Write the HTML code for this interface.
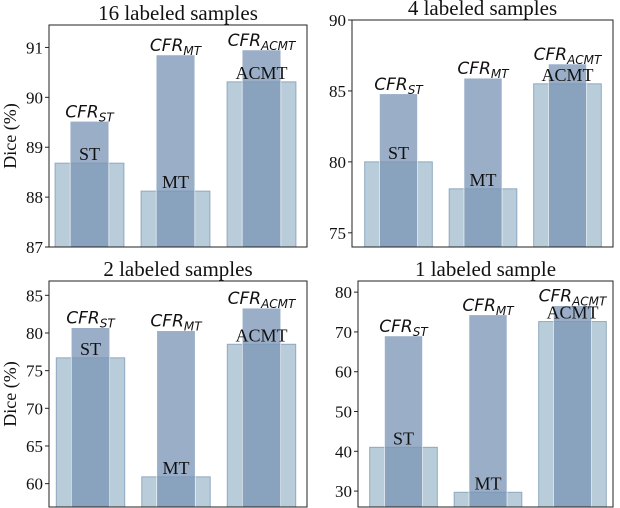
<!DOCTYPE html>
<html><head><meta charset="utf-8"><style>
html,body{margin:0;padding:0;background:#fff;}
svg{display:block;}
.tk{font-family:"Liberation Serif",serif;font-size:17px;fill:#111;}
.tt{font-family:"Liberation Serif",serif;font-size:21px;fill:#111;}
.yl{font-family:"Liberation Serif",serif;font-size:18px;fill:#111;}
.lb{font-family:"Liberation Serif",serif;font-size:18px;fill:#111;}
.cf{font-family:"DejaVu Sans",sans-serif;font-style:italic;font-size:17px;fill:#111;}
</style></head><body>
<svg id="chart" width="620" height="508" viewBox="0 0 620 508" xmlns="http://www.w3.org/2000/svg"></svg>
<script>
const categories = ["ST","MT","ACMT"];
const cfrSubs = ["ST","MT","ACMT"];
const titles = ["16 labeled samples","4 labeled samples","2 labeled samples","1 labeled sample"];
const baseValues16 = [88.68, 88.12, 90.31];
const cfrValues16 = [89.52, 90.85, 90.95];
const baseValues4 = [80.0, 78.1, 85.5];
const cfrValues4 = [84.8, 85.9, 86.9];
const baseValues2 = [76.7, 60.9, 78.5];
const cfrValues2 = [80.7, 80.3, 83.3];
const baseValues1 = [41.0, 29.7, 72.6];
const cfrValues1 = [69.0, 74.3, 76.6];
const ticks16 = [87,88,89,90,91];
const ticks4 = [75,80,85,90];
const ticks2 = [60,65,70,75,80,85];
const ticks1 = [30,40,50,60,70,80];

const NS="http://www.w3.org/2000/svg";
const svg=document.getElementById('chart');
function mk(tag,attrs,parent){const e=document.createElementNS(NS,tag);for(const k in attrs)e.setAttribute(k,attrs[k]);(parent||svg).appendChild(e);return e;}

const panels=[
 {x0:49,x1:307,y0:25,y1:247,c0:89.5,sp:86,ymin:87,ymax:91.45,base:baseValues16,cfr:cfrValues16,ticks:ticks16,title:titles[0],ylab:true,name:"panel-16-samples"},
 {x0:352,x1:613,y0:20,y1:247,c0:398.5,sp:84.5,ymin:74.0,ymax:90,base:baseValues4,cfr:cfrValues4,ticks:ticks4,title:titles[1],ylab:false,name:"panel-4-samples"},
 {x0:49,x1:307,y0:281,y1:507,c0:90.5,sp:85.5,ymin:56.9,ymax:86.9,base:baseValues2,cfr:cfrValues2,ticks:ticks2,title:titles[2],ylab:true,name:"panel-2-samples"},
 {x0:358,x1:613,y0:281,y1:507,c0:403.5,sp:84.5,ymin:26.0,ymax:82.8,base:baseValues1,cfr:cfrValues1,ticks:ticks1,title:titles[3],ylab:false,name:"panel-1-sample"}
];

panels.forEach(p=>{
 const g=mk('g',{});
 
 
 const W=p.x1-p.x0;
 const xs=v=>p.c0+p.sp*v;
 const ys=v=>p.y1-(v-p.ymin)/(p.ymax-p.ymin)*(p.y1-p.y0);
 const unit=p.sp;
 categories.forEach((c,i)=>{
  const cx=xs(i);
  const lw=unit*0.8, dw=unit*0.45;
  const yb=ys(p.base[i]);
  const r1=mk('rect',{x:cx-lw/2,y:yb,width:lw,height:p.y1-yb,fill:'#b8cdd9',stroke:'#8fa8c0','stroke-width':1},g);
  
  
  const yd=ys(p.cfr[i]);
  const r2=mk('rect',{x:cx-dw/2,y:yd,width:dw,height:p.y1-yd,fill:'#7a96b6','fill-opacity':0.76,stroke:'#ffffff','stroke-width':0.6},g);
  
  
  const t1=mk('text',{x:cx,y:yb-3,'text-anchor':'middle',class:'lb'},g);
  t1.textContent=c;
  
  
  const t2=mk('text',{x:cx,y:yd-4,'text-anchor':'middle',class:'cf'},g);
  
  
  t2.appendChild(document.createTextNode('CFR'));
  const sub=document.createElementNS(NS,'tspan');
  sub.setAttribute('font-size','12');sub.setAttribute('dy','4');
  sub.textContent=cfrSubs[i];
  t2.appendChild(sub);
 });
 const fr=mk('rect',{x:p.x0,y:p.y0,width:W,height:p.y1-p.y0,fill:'none',stroke:'#222','stroke-width':1},g);
 
 
 p.ticks.forEach(t=>{
  const y=ys(t);
  const tl=mk('line',{x1:p.x0-4,x2:p.x0,y1:y,y2:y,stroke:'#222','stroke-width':1},g);
  
  
  const tt=mk('text',{x:p.x0-6,y:y+6,'text-anchor':'end',class:'tk'},g);
  tt.textContent=t;
  
  
 });
 const ti=mk('text',{x:(p.x0+p.x1)/2,y:p.y0-5,'text-anchor':'middle',class:'tt'},g);
 ti.textContent=p.title;
 
 
 if(p.ylab){
  const cy=(p.y0+p.y1)/2;
  const yl=mk('text',{x:0,y:0,transform:'translate(16,'+cy+') rotate(-90)','text-anchor':'middle',class:'yl'},g);
  yl.textContent='Dice (%)';
  
  
 }
});
</script>
</body></html>
